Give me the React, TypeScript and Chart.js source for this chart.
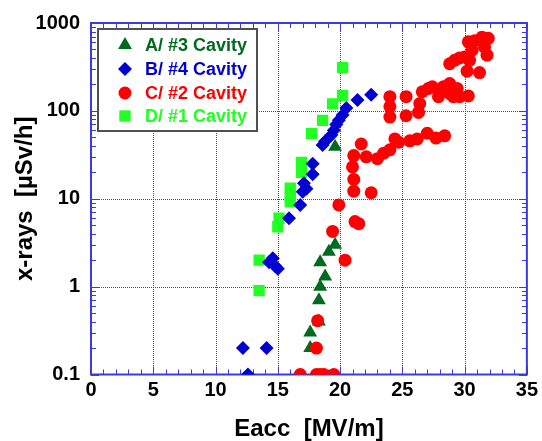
import { useEffect, useRef } from 'react';
import { Chart, registerables } from 'chart.js';

Chart.register(...registerables);

// ---- Data (Eacc [MV/m], x-rays [uSv/h]) ----
const seriesNames = ['A/ #3 Cavity', 'B/ #4 Cavity', 'C/ #2 Cavity', 'D/ #1 Cavity'];

const seriesA: [number, number][] = [
  [17.6, 0.2], [17.6, 0.3], [18.3, 0.4], [18.3, 0.7], [18.4, 1.0], [18.8, 1.3],
  [18.4, 1.9], [19.1, 2.5], [19.6, 3.0], [19.6, 39],
];

const seriesB: [number, number][] = [
  [12.2, 0.2], [12.6, 0.1], [14.1, 0.2], [14.3, 1.9], [14.6, 2.1], [14.8, 1.7],
  [15.0, 1.6], [15.9, 6], [16.8, 8.5], [17.0, 12], [17.1, 15], [17.3, 13],
  [17.8, 19], [17.8, 25], [18.6, 41], [18.8, 45], [19.3, 53], [19.5, 60],
  [19.7, 70], [19.9, 78], [20.2, 90], [20.5, 108], [21.4, 133], [22.5, 153],
];

const seriesC: [number, number][] = [
  [16.8, 0.1], [18.1, 0.1], [18.4, 0.1], [18.7, 0.1], [19.5, 0.1],
  [18.1, 0.2], [18.2, 0.41], [19.4, 4.25], [19.9, 8.5], [20.4, 2.0],
  [21.2, 5.5], [21.5, 5.2], [21.1, 12.2], [22.5, 11.7], [21.1, 16.6],
  [21.0, 23], [21.1, 31], [21.7, 42], [22.1, 30], [23.0, 28.6], [23.5, 33],
  [24.0, 36], [24.4, 48], [24.7, 44], [25.6, 45.6], [26.2, 48], [27.0, 55.6],
  [27.7, 49], [28.4, 52],
  [24.0, 145], [24.0, 112], [24.0, 85], [25.3, 145], [25.3, 88], [26.3, 96],
  [26.4, 121], [26.6, 165], [27.1, 180], [27.4, 188], [27.9, 172], [27.9, 145],
  [28.3, 188], [28.8, 205], [28.8, 158], [29.1, 145], [29.4, 180], [29.6, 145],
  [30.3, 148], [28.8, 344], [29.2, 376], [29.6, 400], [30.0, 410], [30.4, 376],
  [30.2, 283], [31.2, 273], [30.3, 610], [30.8, 630], [31.4, 690], [31.9, 670],
  [31.6, 530], [31.8, 430], [30.6, 490],
];

const seriesD: [number, number][] = [
  [13.5, 0.9], [13.5, 2.0], [15.0, 4.8], [15.1, 6.0], [16.0, 9.2], [16.0, 10.6],
  [16.0, 13.2], [16.9, 20], [16.9, 26], [17.7, 55], [18.6, 78], [19.4, 120],
  [20.2, 150], [20.2, 310],
];

const seriesColors = ['#006a1e', '#0000d0', '#ff0000', '#22ff22'];
const pointStyles = ['triangle', 'rectRot', 'circle', 'rect'] as const;

const xTickValues = [0, 5, 10, 15, 20, 25, 30, 35];
const yTickValues = [0.1, 1, 10, 100, 1000];
const yTickLabels = ['0.1', '1', '10', '100', '1000'];

const FONT = '"Liberation Sans", Arial, sans-serif';
const AXIS_BLUE = '#3a3ae0';

function drawMarker(ctx: CanvasRenderingContext2D, style: string, x: number, y: number, r: number) {
  ctx.beginPath();
  if (style === 'triangle') {
    ctx.moveTo(x, y - r);
    ctx.lineTo(x + r * 0.866, y + r / 2);
    ctx.lineTo(x - r * 0.866, y + r / 2);
    ctx.closePath();
  } else if (style === 'rectRot') {
    ctx.moveTo(x, y - r);
    ctx.lineTo(x + r, y);
    ctx.lineTo(x, y + r);
    ctx.lineTo(x - r, y);
    ctx.closePath();
  } else if (style === 'circle') {
    ctx.arc(x, y, r, 0, Math.PI * 2);
  } else {
    const s = r * Math.SQRT1_2;
    ctx.rect(x - s, y - s, 2 * s, 2 * s);
  }
  ctx.fill();
}

const framePlugin = {
  id: 'frame',
  beforeDatasetsDraw(chart: any) {
    const { ctx, chartArea } = chart;
    const { left, right, top, bottom } = chartArea;
    const xs = chart.scales.x;
    const ys = chart.scales.y;
    ctx.save();
    // dotted grid
    ctx.strokeStyle = AXIS_BLUE;
    ctx.lineWidth = 1;
    ctx.setLineDash([1, 1]);
    xTickValues.slice(1, -1).forEach((v) => {
      const px = Math.round(xs.getPixelForValue(v)) + 0.5;
      ctx.beginPath();
      ctx.moveTo(px, top);
      ctx.lineTo(px, bottom);
      ctx.stroke();
    });
    yTickValues.slice(1, -1).forEach((v) => {
      const py = Math.round(ys.getPixelForValue(v)) + 0.5;
      ctx.beginPath();
      ctx.moveTo(left, py);
      ctx.lineTo(right, py);
      ctx.stroke();
    });
    ctx.setLineDash([]);
    // minor / major ticks (inward)
    ctx.beginPath();
    for (let v = 0; v <= 35; v++) {
      const px = Math.round(xs.getPixelForValue(v)) + 0.5;
      const len = v % 5 === 0 ? 8 : 5;
      ctx.moveTo(px, bottom);
      ctx.lineTo(px, bottom - len);
      ctx.moveTo(px, top);
      ctx.lineTo(px, top + len);
    }
    for (let d = 0.1; d < 1000; d *= 10) {
      for (let m = 1; m <= 9; m++) {
        const py = Math.round(ys.getPixelForValue(d * m)) + 0.5;
        const len = m === 1 ? 8 : 5;
        ctx.moveTo(left, py);
        ctx.lineTo(left + len, py);
        ctx.moveTo(right, py);
        ctx.lineTo(right - len, py);
      }
    }
    ctx.stroke();
    // frame
    ctx.lineWidth = 2;
    ctx.strokeRect(left, top, right - left, bottom - top);
    ctx.restore();
  },
  afterDatasetsDraw(chart: any) {
    const { ctx } = chart;
    const bx = 98, by = 29, bw = 159, bh = 102;
    ctx.save();
    ctx.fillStyle = '#ffffff';
    ctx.fillRect(bx, by, bw, bh);
    ctx.strokeStyle = '#505050';
    ctx.lineWidth = 2;
    ctx.strokeRect(bx, by, bw, bh);
    ctx.font = `bold 18px ${FONT}`;
    ctx.textBaseline = 'middle';
    ctx.textAlign = 'left';
    const rows = [45, 69, 93, 116];
    const mr = [8, 7, 6.5, 8];
    seriesNames.forEach((name, i) => {
      ctx.fillStyle = seriesColors[i];
      drawMarker(ctx, pointStyles[i], 125, rows[i], mr[i]);
      ctx.fillText(name, 145, rows[i] + 1);
    });
    ctx.restore();
  },
};

function toPoints(s: [number, number][]) {
  return s.map(([x, y]) => ({ x, y }));
}

export default function App() {
  const canvasRef = useRef<HTMLCanvasElement | null>(null);

  useEffect(() => {
    const canvas = canvasRef.current;
    if (!canvas) return;
    const all = [seriesA, seriesB, seriesC, seriesD];
    const orders = [2, 3, 1, 4];
    const radii = [8, 7, 6.5, 8];
    const chart = new Chart(canvas, {
      type: 'scatter',
      data: {
        datasets: all.map((s, i) => ({
          label: seriesNames[i],
          data: toPoints(s),
          backgroundColor: seriesColors[i],
          borderColor: seriesColors[i],
          borderWidth: 0,
          pointStyle: pointStyles[i],
          pointRadius: radii[i],
          pointHoverRadius: radii[i],
          order: orders[i],
        })),
      },
      options: {
        responsive: false,
        animation: false,
        events: [],
        layout: { padding: { top: 20, right: 13, left: 0, bottom: 0 } },
        plugins: { legend: { display: false }, tooltip: { enabled: false } },
        scales: {
          x: {
            type: 'linear',
            min: 0,
            max: 35,
            afterBuildTicks: (scale: any) => {
              scale.ticks = xTickValues.map((v) => ({ value: v }));
            },
            afterFit: (scale: any) => {
              scale.height = 66.5;
            },
            ticks: {
              autoSkip: false,
              maxRotation: 0,
              padding: 4,
              color: '#000000',
              font: { family: FONT, size: 20, weight: 'bold' },
            },
            grid: { display: false, drawTicks: false },
            border: { display: false },
            title: {
              display: true,
              text: 'Eacc  [MV/m]',
              color: '#000000',
              font: { family: FONT, size: 24, weight: 'bold', lineHeight: 1 },
              padding: { top: 0, bottom: 0 },
            },
          },
          y: {
            type: 'logarithmic',
            min: 0.1,
            max: 1000,
            afterBuildTicks: (scale: any) => {
              scale.ticks = yTickValues.map((v) => ({ value: v }));
            },
            afterFit: (scale: any) => {
              scale.width = 91;
            },
            ticks: {
              autoSkip: false,
              padding: 11,
              color: '#000000',
              font: { family: FONT, size: 20, weight: 'bold' },
              callback: (_v: any, i: number) => yTickLabels[i],
            },
            grid: { display: false, drawTicks: false },
            border: { display: false },
            title: {
              display: true,
              text: 'x-rays  [\u00B5Sv/h]',
              color: '#000000',
              font: { family: FONT, size: 24, weight: 'bold', lineHeight: 1 },
              padding: { top: 13, bottom: 0 },
            },
          },
        },
      },
      plugins: [framePlugin],
    } as any);
    return () => chart.destroy();
  }, []);

  return (
    <div style={{ position: 'fixed', left: 0, top: 0, width: 542, height: 441, background: '#ffffff' }}>
      <canvas ref={canvasRef} width={542} height={441} style={{ display: 'block' }} />
    </div>
  );
}
